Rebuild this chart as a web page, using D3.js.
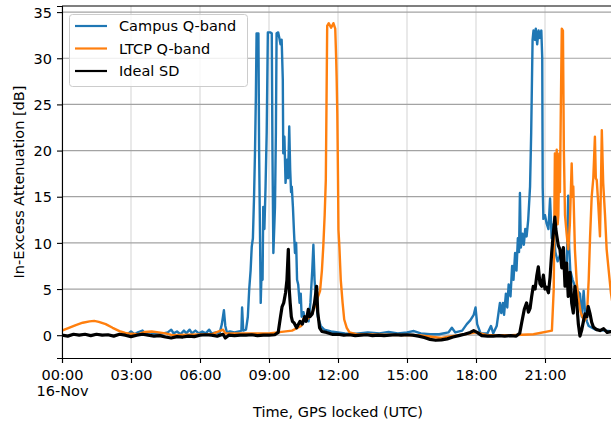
<!DOCTYPE html>
<html><head><meta charset="utf-8">
<script src="https://cdn.jsdelivr.net/npm/d3@7"></script>
<style>
html,body{margin:0;padding:0;background:#fff;overflow:hidden}
text{font-family:"DejaVu Sans",sans-serif;fill:#000}
</style></head>
<body><svg id="c" width="611" height="426"></svg>
<script>
// [hour of day, dB]
const campus = [[2.85,0.1],[3.0,0.4],[3.15,0.1],[3.3,0.3],[3.5,0.5],[3.6,0.2],[3.8,0.3],[4.0,0.2],[4.2,0.1],[4.4,0.2],[4.6,0.3],[4.75,0.6],[4.85,0.2],[5.0,0.4],[5.15,0.1],[5.3,0.5],[5.4,0.2],[5.55,0.6],[5.65,0.2],[5.8,0.5],[5.95,0.2],[6.1,0.4],[6.25,0.2],[6.4,0.6],[6.5,0.2],[6.7,0.3],[6.85,0.2],[6.95,1.2],[7.04,2.7],[7.1,1.0],[7.17,0.3],[7.3,0.4],[7.5,0.3],[7.7,0.4],[7.8,0.5],[7.83,3.0],[7.88,0.5],[8.0,0.6],[8.08,2.0],[8.14,5],[8.2,7],[8.25,9.6],[8.3,10.5],[8.35,15],[8.39,19.7],[8.43,26],[8.46,32.7],[8.54,32.7],[8.57,20],[8.61,10.7],[8.64,3.5],[8.68,7.2],[8.72,6],[8.75,13.9],[8.8,11.5],[8.85,16.1],[8.9,22],[8.95,32.8],[9.05,32.8],[9.12,32.7],[9.15,20],[9.19,8.9],[9.26,13.9],[9.3,22],[9.33,32.7],[9.4,32.8],[9.45,32.2],[9.5,31.5],[9.55,32.0],[9.6,27.7],[9.62,19.7],[9.67,21.5],[9.72,16.5],[9.78,19],[9.83,17],[9.88,22.6],[9.92,18],[9.96,15.5],[9.99,16.1],[10.04,13.9],[10.09,11],[10.13,8.9],[10.18,10],[10.22,6],[10.27,5.5],[10.33,3.5],[10.38,4.5],[10.42,2.0],[10.5,2.5],[10.57,1.5],[10.65,2.0],[10.72,1.5],[10.8,3.5],[10.88,7],[10.93,9.8],[10.98,6],[11.04,4],[11.12,2],[11.25,1.0],[11.4,0.6],[11.7,0.4],[12.3,0.2],[12.8,0.15],[13.3,0.3],[13.8,0.2],[14.2,0.35],[14.6,0.2],[15.0,0.3],[15.3,0.45],[15.6,0.2],[16.0,0.1],[16.4,0.1],[16.8,0.3],[16.95,0.8],[17.1,0.3],[17.4,0.5],[17.6,1.2],[17.75,1.6],[17.9,2.2],[17.98,3.0],[18.05,1.2],[18.2,0.2],[18.5,0.2],[18.65,1.0],[18.75,0.2],[18.9,1.0],[19.04,3.5],[19.1,2.4],[19.17,3.5],[19.22,2.2],[19.3,4.5],[19.36,3.0],[19.42,5.5],[19.5,4.2],[19.57,7.5],[19.63,6.0],[19.7,8.9],[19.76,7.0],[19.82,10.5],[19.87,9.0],[19.91,15.4],[19.95,9.5],[20.02,11],[20.08,9.8],[20.14,11.5],[20.2,10.7],[20.27,12.5],[20.35,16.1],[20.4,22],[20.46,32],[20.5,33.0],[20.56,32],[20.6,33.2],[20.66,31.5],[20.72,33],[20.78,32.2],[20.84,33],[20.88,30],[20.9,16],[20.93,12.6],[21.0,13],[21.07,12.1],[21.15,11.5],[21.22,14.8],[21.29,10.5],[21.36,12],[21.45,9],[21.55,8],[21.7,9],[21.85,7],[21.95,8],[22.01,15.1],[22.05,9.5],[22.1,7],[22.2,6],[22.35,5],[22.52,4.5],[22.6,2.0],[22.68,4.8],[22.74,2.5],[22.82,1.5],[22.9,1.0],[23.2,0.6],[23.6,0.5],[24.0,0.4]];

const ltcp = [[0.0,0.5],[0.3,0.8],[0.6,1.1],[0.9,1.35],[1.2,1.5],[1.4,1.55],[1.6,1.45],[1.9,1.2],[2.2,0.8],[2.5,0.45],[2.75,0.25],[3.0,0.15],[3.3,0.1],[3.6,0.35],[3.9,0.4],[4.2,0.3],[4.5,0.2],[4.8,0.0],[5.5,0.05],[6.5,0.1],[7.0,0.6],[7.1,0.2],[7.5,0.2],[8.0,0.2],[9.0,0.2],[10.0,0.5],[10.4,1.0],[10.5,1.8],[10.57,2.0],[10.7,1.8],[10.9,2.5],[11.05,3.5],[11.15,4.3],[11.22,4.8],[11.3,7],[11.36,9.6],[11.42,13],[11.47,16.8],[11.5,25],[11.53,33.5],[11.6,33.8],[11.7,33.3],[11.8,33.8],[11.88,33.2],[11.92,30],[11.94,28],[11.97,24],[12.0,17],[12.02,11.4],[12.06,9.6],[12.12,6],[12.2,3.5],[12.27,1.7],[12.38,0.8],[12.5,0.3],[12.8,0.1],[14.0,0.05],[15.5,0.0],[16.5,-0.3],[17.5,0.1],[18.0,0.3],[18.5,0.0],[19.5,0.0],[20.5,0.1],[21.3,0.5],[21.38,5],[21.43,19.7],[21.47,13],[21.51,20.1],[21.55,12],[21.58,13],[21.62,19.7],[21.65,15.5],[21.69,25],[21.73,33.2],[21.78,33.0],[21.82,20],[21.87,13],[21.94,11],[22.01,9.3],[22.08,12],[22.16,18.6],[22.2,15],[22.23,16.1],[22.3,9.3],[22.38,5.7],[22.45,4],[22.55,2.5],[22.7,1.5],[22.82,2.0],[22.9,6],[22.96,10.7],[23.03,15],[23.1,17],[23.17,21.5],[23.21,17],[23.25,16.8],[23.32,14],[23.39,10.7],[23.43,16],[23.47,22.2],[23.53,16.5],[23.61,13],[23.68,9.3],[23.75,7.5],[23.87,4.5],[23.95,3.2],[24.0,3]];

const ideal = [[0,0.0],[0.25,-0.1],[0.5,0.1],[0.75,0.0],[1.0,0.1],[1.25,-0.05],[1.5,0.1],[1.75,0.0],[2.0,0.05],[2.25,-0.1],[2.5,0.1],[2.75,0.0],[3.0,-0.15],[3.25,0.0],[3.5,0.1],[3.75,0.0],[4.0,-0.1],[4.25,-0.05],[4.5,-0.2],[4.75,-0.3],[5.0,-0.15],[5.25,-0.2],[5.5,-0.1],[5.75,-0.15],[6.0,0.0],[6.25,0.05],[6.5,0.0],[6.75,-0.1],[7.0,0.1],[7.1,-0.3],[7.25,0.0],[7.5,-0.05],[7.75,0.0],[8.0,0.0],[8.25,0.05],[8.5,-0.05],[8.75,0.0],[9.0,0.0],[9.25,0.05],[9.4,0.3],[9.5,2.0],[9.57,3.1],[9.64,3.5],[9.72,4.6],[9.78,6],[9.84,9.3],[9.88,5],[9.92,3.5],[9.97,2.0],[10.02,1.5],[10.1,1.3],[10.2,0.8],[10.35,1.5],[10.45,1.2],[10.55,2.0],[10.62,1.5],[10.71,2.8],[10.78,2.0],[10.88,2.3],[10.98,3.5],[11.07,5.3],[11.12,2.5],[11.2,0.8],[11.3,0.4],[11.5,0.3],[11.75,0.1],[12.0,0.1],[12.25,0.0],[12.5,0.05],[12.75,-0.05],[13,0.0],[13.25,0.05],[13.5,-0.05],[13.75,0.0],[14,-0.05],[14.25,0.0],[14.5,0.05],[14.75,0.0],[15.0,0.05],[15.25,0.0],[15.5,-0.1],[15.75,-0.25],[16.0,-0.45],[16.25,-0.55],[16.5,-0.5],[16.75,-0.4],[17.0,-0.2],[17.25,-0.05],[17.5,0.1],[17.75,0.3],[17.9,0.5],[18.05,0.3],[18.25,-0.05],[18.5,-0.1],[18.75,-0.1],[19.0,-0.05],[19.25,-0.1],[19.5,-0.05],[19.75,-0.1],[19.9,0.2],[19.99,1.4],[20.1,2.8],[20.2,3.5],[20.28,2.5],[20.35,2.9],[20.42,4.2],[20.49,5.3],[20.57,5.0],[20.64,6.4],[20.71,7.4],[20.78,5.6],[20.86,5.3],[20.93,6.5],[21.0,5.0],[21.07,5.2],[21.15,4.6],[21.22,6.3],[21.29,8.9],[21.36,11],[21.43,12.8],[21.47,11.5],[21.51,10.8],[21.58,9.7],[21.65,9.3],[21.73,7.3],[21.8,9.5],[21.87,5.3],[21.94,7.8],[22.01,4.2],[22.09,6.8],[22.16,3.5],[22.23,2.4],[22.3,5.3],[22.38,3.5],[22.45,1.2],[22.52,-0.1],[22.59,0.5],[22.67,1.5],[22.74,2.3],[22.82,2.0],[22.88,3.1],[22.96,2.3],[23.03,1.4],[23.1,0.9],[23.25,0.6],[23.39,0.5],[23.55,0.7],[23.7,0.3],[23.87,0.4],[24.0,0.3]];

const yTicks = [0,5,10,15,20,25,30,35];
const xTicks = [0,3,6,9,12,15,18,21];
const xTickLabels = ["00:00","03:00","06:00","09:00","12:00","15:00","18:00","21:00"];
const dateLabel = "16-Nov";
const seriesNames = ["Campus Q-band","LTCP Q-band","Ideal SD"];
const seriesColors = ["#1f77b4","#ff7f0e","#000000"];

const L=62, R=614, T=6, B=358;
const svg = d3.select("#c");
const x = d3.scaleLinear().domain([0,24]).range([L,R]);
const y = d3.scaleLinear().domain([-2.47,35.66]).range([B,T]);

svg.append("defs").append("clipPath").attr("id","pc").append("rect")
  .attr("x",L).attr("y",T).attr("width",R-L).attr("height",B-T);

// grid
svg.append("g").selectAll("line").data(xTicks).join("line")
  .attr("x1",d=>x(d)).attr("x2",d=>x(d)).attr("y1",T).attr("y2",B)
  .attr("stroke","#dadada").attr("stroke-width",1.2);
svg.append("g").selectAll("line").data(yTicks).join("line")
  .attr("x1",L).attr("x2",R).attr("y1",d=>y(d)).attr("y2",d=>y(d))
  .attr("stroke","#a3a3a3").attr("stroke-width",1.2);

const line = d3.line().x(d=>x(d[0])).y(d=>y(d[1]));
const g = svg.append("g").attr("clip-path","url(#pc)");
[campus, ltcp, ideal].forEach((s,i)=>{
  g.append("path").datum(s).attr("d",line).attr("fill","none")
   .attr("stroke",seriesColors[i]).attr("stroke-width", i===2?3.2:2.4)
   .attr("stroke-linejoin","round");
});

// top spine
svg.append("line").attr("x1",L).attr("x2",R).attr("y1",T).attr("y2",T).attr("stroke","#000").attr("stroke-width",1.1);

// axes
const ax = svg.append("g").attr("transform",`translate(0,${B})`)
  .call(d3.axisBottom(x).tickValues(xTicks).tickSize(5).tickPadding(8).tickFormat((d,i)=>xTickLabels[i]));
const ay = svg.append("g").attr("transform",`translate(${L},0)`)
  .call(d3.axisLeft(y).tickValues(yTicks).tickSize(5).tickPadding(5));
[ax,ay].forEach(a=>{
  a.select(".domain").attr("stroke","#000").attr("stroke-width",1.1);
  a.selectAll(".tick line").attr("stroke","#000").attr("stroke-width",1.1);
  a.selectAll("text").attr("font-family","DejaVu Sans").attr("font-size","14.5px").attr("fill","#000");
});
ax.selectAll(".tick text").attr("dy","0.6em");
ax.selectAll(".tick").filter((d,i)=>i===0).select("text")
  .append("tspan").attr("x",0).attr("dy","1.15em").text(dateLabel);
ay.selectAll(".tick text").attr("dy","0.36em");

svg.append("text").attr("x",(L+R)/2).attr("y",417).attr("text-anchor","middle")
  .attr("font-size","14.5px").text("Time, GPS locked (UTC)");
svg.append("text").attr("transform",`translate(24,${(T+B)/2}) rotate(-90)`)
  .attr("text-anchor","middle").attr("font-size","14.5px").text("In-Excess Attenuation [dB]");

// legend
const lg = svg.append("g");
lg.append("rect").attr("x",69.5).attr("y",14.5).attr("width",178).attr("height",72).attr("rx",3)
  .attr("fill","#fff").attr("fill-opacity",0.8).attr("stroke","#cccccc").attr("stroke-width",1);
seriesNames.forEach((n,i)=>{
  const yy = 26 + i*22.5;
  lg.append("line").attr("x1",75).attr("x2",107).attr("y1",yy).attr("y2",yy)
    .attr("stroke",seriesColors[i]).attr("stroke-width",2.2);
  lg.append("text").attr("x",119).attr("y",yy).attr("dy","0.36em").attr("font-size","14.5px").text(n);
});
</script></body></html>
